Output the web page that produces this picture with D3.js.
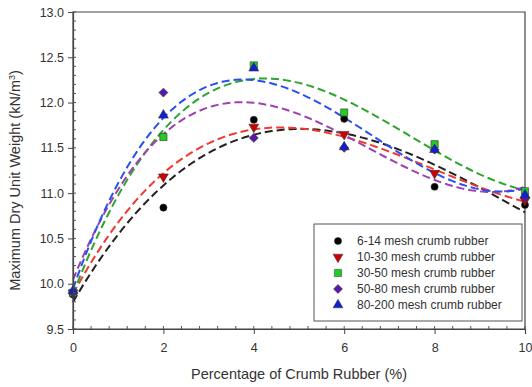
<!DOCTYPE html>
<html>
<head>
<meta charset="utf-8">
<script src="https://cdn.jsdelivr.net/npm/d3@7"></script>
<style>
  body { margin: 0; background: #fff; }
  text { font-family: "Liberation Sans", Arial, sans-serif; }
</style>
</head>
<body>
<div id="chart"></div>
<script>
// crumb rubber percentage
const xValues = [0, 2, 4, 6, 8, 10];
const seriesNames = ['6-14 mesh crumb rubber', '10-30 mesh crumb rubber', '30-50 mesh crumb rubber',
  '50-80 mesh crumb rubber', '80-200 mesh crumb rubber'];
const mesh6to14 = [9.88, 10.84, 11.81, 11.82, 11.07, 10.87];
const mesh10to30 = [9.90, 11.18, 11.73, 11.65, 11.22, 10.92];
const mesh30to50 = [9.90, 11.62, 12.41, 11.89, 11.54, 11.02];
const mesh50to80 = [9.90, 12.11, 11.61, 11.50, 11.48, 10.95];
const mesh80to200 = [9.92, 11.86, 12.38, 11.51, 11.48, 10.98];
const yTicks = [9.5, 10.0, 10.5, 11.0, 11.5, 12.0, 12.5, 13.0];
const xTicks = [0, 2, 4, 6, 8, 10];

const width = 532, height = 387;
const mLeft = 73, mRight = 525, mTop = 12, mBottom = 329;

const series = [
  { name: seriesNames[0], values: mesh6to14, line: '#222', fill: '#000', shape: 'circle' },
  { name: seriesNames[1], values: mesh10to30, line: '#f03a2e', fill: '#d00000', shape: 'down' },
  { name: seriesNames[2], values: mesh30to50, line: '#2ea52e', fill: '#22cc22', shape: 'square' },
  { name: seriesNames[3], values: mesh50to80, line: '#a040b0', fill: '#5a18a8', shape: 'diamond' },
  { name: seriesNames[4], values: mesh80to200, line: '#2a4ff0', fill: '#1020d0', shape: 'up' }
];

const x = d3.scaleLinear().domain([0, 10]).range([mLeft, mRight]);
const y = d3.scaleLinear().domain([9.5, 13]).range([mBottom, mTop]);

const svg = d3.select('#chart').append('svg').attr('width', width).attr('height', height);

// least squares cubic fit
function cubicFit(xs, ys) {
  const n = 4;
  const A = [];
  for (let i = 0; i < n; i++) {
    A.push(new Array(n + 1).fill(0));
  }
  xs.forEach((xv, k) => {
    for (let i = 0; i < n; i++) {
      for (let j = 0; j < n; j++) A[i][j] += Math.pow(xv, i + j);
      A[i][n] += ys[k] * Math.pow(xv, i);
    }
  });
  for (let i = 0; i < n; i++) {
    let p = i;
    for (let r = i + 1; r < n; r++) if (Math.abs(A[r][i]) > Math.abs(A[p][i])) p = r;
    [A[i], A[p]] = [A[p], A[i]];
    for (let r = 0; r < n; r++) {
      if (r === i) continue;
      const f = A[r][i] / A[i][i];
      for (let c = i; c <= n; c++) A[r][c] -= f * A[i][c];
    }
  }
  const coef = A.map((row, i) => row[n] / row[i]);
  return t => coef[0] + coef[1] * t + coef[2] * t * t + coef[3] * t * t * t;
}

// frame
svg.append('path')
  .attr('d', `M${mLeft},${mBottom}V${mTop}H${mRight}V${mBottom}Z`)
  .attr('fill', 'none').attr('stroke', '#444').attr('stroke-width', 1.2);

// fitted curves
const line = d3.line().x(d => x(d[0])).y(d => y(d[1]));
series.forEach(s => {
  const f = cubicFit(xValues, s.values);
  const pts = d3.range(0, 10.001, 0.1).map(t => [t, f(t)]);
  svg.append('path').attr('d', line(pts)).attr('fill', 'none')
    .attr('stroke', s.line).attr('stroke-width', 2).attr('stroke-dasharray', '8,4');
});

// markers
function markerPath(shape) {
  if (shape === 'circle') return d3.symbol().type(d3.symbolCircle).size(40)();
  if (shape === 'square') return d3.symbol().type(d3.symbolSquare).size(52)();
  if (shape === 'diamond') return d3.symbol().type(d3.symbolSquare).size(40)();
  return d3.symbol().type(d3.symbolTriangle).size(42)();
}
function markerRot(shape) {
  if (shape === 'down') return ' rotate(180)';
  if (shape === 'diamond') return ' rotate(45)';
  return '';
}
series.forEach(s => {
  svg.append('g').selectAll('path').data(s.values).enter().append('path')
    .attr('d', markerPath(s.shape))
    .attr('transform', (d, i) => `translate(${x(xValues[i])},${y(d)})` + markerRot(s.shape))
    .attr('fill', s.fill).attr('stroke', '#333').attr('stroke-width', 0.6);
});

// axes
const yAxis = d3.axisLeft(y).tickValues(yTicks).tickFormat(d3.format('.1f')).tickSize(5).tickPadding(4);
const gy = svg.append('g').attr('transform', `translate(${mLeft},0)`).call(yAxis);
const xAxis = d3.axisBottom(x).tickValues(xTicks).tickFormat(d3.format('d')).tickSize(5).tickPadding(9);
const gx = svg.append('g').attr('transform', `translate(0,${mBottom})`).call(xAxis);
[gy, gx].forEach(g => {
  g.select('.domain').attr('stroke', '#444').attr('stroke-width', 1.2);
  g.selectAll('.tick line').attr('stroke', '#444');
  g.selectAll('.tick text').attr('fill', '#333').style('font-size', '12.5px');
});

// minor ticks, pointing inward
const yMinor = d3.range(9.5, 13.001, 0.1);
svg.append('g').selectAll('line').data(yMinor).enter().append('line')
  .attr('x1', mLeft).attr('x2', mLeft + 3).attr('y1', d => y(d)).attr('y2', d => y(d))
  .attr('stroke', '#555');
const xMinor = d3.range(0, 10.001, 0.4);
svg.append('g').selectAll('line').data(xMinor).enter().append('line')
  .attr('y1', mBottom).attr('y2', mBottom - 3).attr('x1', d => x(d)).attr('x2', d => x(d))
  .attr('stroke', '#555');

// axis titles
svg.append('text').attr('x', 299).attr('y', 379).attr('text-anchor', 'middle')
  .style('font-size', '14.5px').attr('fill', '#333').text('Percentage of Crumb Rubber (%)');
const yt = svg.append('text').attr('transform', `translate(20,${(mTop + mBottom) / 2 + 10}) rotate(-90)`)
  .attr('text-anchor', 'middle').style('font-size', '14.5px').attr('fill', '#333');
yt.append('tspan').text('Maximum Dry Unit Weight (kN/m');
yt.append('tspan').attr('dy', -5).style('font-size', '9px').text('3');
yt.append('tspan').attr('dy', 5).text(')');

// legend
const lg = svg.append('g');
lg.append('rect').attr('x', 314).attr('y', 224).attr('width', 208).attr('height', 97)
  .attr('fill', '#fff').attr('stroke', '#555').attr('stroke-width', 1);
series.forEach((s, i) => {
  const ly = 241 + i * 16;
  lg.append('path').attr('d', markerPath(s.shape))
    .attr('transform', `translate(338,${ly})` + markerRot(s.shape))
    .attr('fill', s.fill).attr('stroke', '#333').attr('stroke-width', 0.5);
  lg.append('text').attr('x', 357).attr('y', ly + 4).style('font-size', '12px')
    .attr('fill', '#333').text(s.name);
});
</script>
</body>
</html>
